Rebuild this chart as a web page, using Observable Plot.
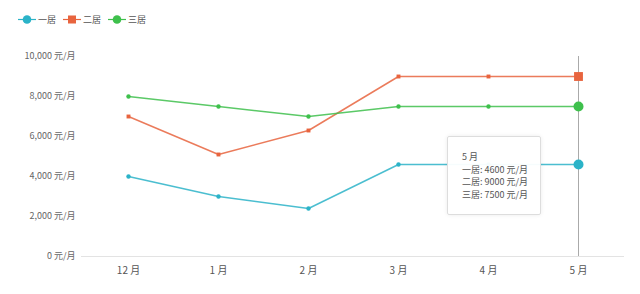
<!DOCTYPE html>
<html><head><meta charset="utf-8">
<script src="https://cdn.jsdelivr.net/npm/d3@7"></script>
<script src="https://cdn.jsdelivr.net/npm/@observablehq/plot@0.6"></script>
<style>
html,body{margin:0;padding:0;background:#fff;}
body{font-family:"Noto Sans CJK SC","Noto Sans",sans-serif;}
#wrap{position:relative;width:640px;height:294px;}
#legend{position:absolute;left:18px;top:12px;display:flex;font-size:9px;color:#555;align-items:center;z-index:2;}
.item{display:flex;align-items:center;margin-right:8px;}
.item svg{margin-right:3px;}
#tip{position:absolute;left:447px;top:136px;width:94px;height:79px;box-sizing:border-box;border:1px solid #ddd;background:rgba(255,255,255,0.95);box-shadow:0 0 4px rgba(0,0,0,0.08);font-size:9px;color:#555;padding:14px 0 0 14px;line-height:12.5px;border-radius:2px;z-index:2;}
</style></head>
<body><div id="wrap"><div id="legend"></div><div id="tip"></div></div>
<script>
const months = ["12月","1月","2月","3月","4月","5月"];
const seriesNames = ["一居","二居","三居"];
const colors = ["#2bb3c8","#e8643e","#3ec04c"];
const symbols = ["circle","square","circle"];
const one = [4000,3000,2400,4600,4600,4600];
const two = [7000,5100,6300,9000,9000,9000];
const three = [8000,7500,7000,7500,7500,7500];
const yTicks = [0,2000,4000,6000,8000,10000];
const hoverMonth = "5月";

const values = [one,two,three];
const data = [];
seriesNames.forEach((s,i)=>months.forEach((m,j)=>data.push({series:s,month:m,value:values[i][j]})));
const hover = data.filter(d=>d.month===hoverMonth);

const chart = Plot.plot({
  width:640, height:294,
  marginTop:56, marginBottom:38, marginLeft:81, marginRight:16,
  style:{fontFamily:'"Noto Sans CJK SC","Noto Sans",sans-serif',background:"transparent"},
  x:{type:"point",domain:months,padding:0.5},
  y:{domain:[0,10000]},
  color:{domain:seriesNames,range:colors},
  symbol:{domain:seriesNames,range:symbols},
  marks:[
    Plot.ruleY([0],{stroke:"#e3e3e3",strokeWidth:1}),
    Plot.axisY({ticks:yTicks,tickSize:0,tickPadding:6,tickFormat:d=>d3.format(",")(d)+" 元/月",fontSize:9,fill:"#666",label:null}),
    Plot.axisX({tickSize:0,tickPadding:10,fontSize:10,fill:"#555",label:null,tickFormat:d=>d.replace(/(\d+)月/,"$1 月")}),
    Plot.ruleX([hoverMonth],{y1:0,y2:10000,stroke:"#aaa",strokeWidth:1}),
    Plot.line(data,{x:"month",y:"value",z:"series",stroke:"series",strokeWidth:1.5,strokeOpacity:0.85}),
    Plot.dot(data,{x:"month",y:"value",fill:"series",symbol:"series",r:2.2}),
    Plot.dot(hover,{x:"month",y:"value",fill:"series",symbol:"series",r:5})
  ]
});
document.getElementById("wrap").prepend(chart);
chart.style.position="absolute";chart.style.left="0";chart.style.top="0";

const legend = document.getElementById("legend");
seriesNames.forEach((s,i)=>{
  const it=document.createElement("div");it.className="item";
  it.style.marginRight="7px";
  const shape = symbols[i]==="square" ? `<rect x="5" y="3.5" width="8" height="8" fill="${colors[i]}"/>` : `<circle cx="9" cy="7.5" r="4.3" fill="${colors[i]}"/>`;
  it.innerHTML=`<svg width="18" height="15" style="margin-right:2px"><line x1="0" x2="18" y1="7.5" y2="7.5" stroke="${colors[i]}" stroke-width="1.2"/>${shape}</svg><span>${s}</span>`;
  legend.appendChild(it);
});
const tip=document.getElementById("tip");
tip.innerHTML=`<div>${hoverMonth.replace("月"," 月")}</div>`+hover.map(d=>`<div>${d.series}: ${d.value} 元/月</div>`).join("");
</script></body></html>
